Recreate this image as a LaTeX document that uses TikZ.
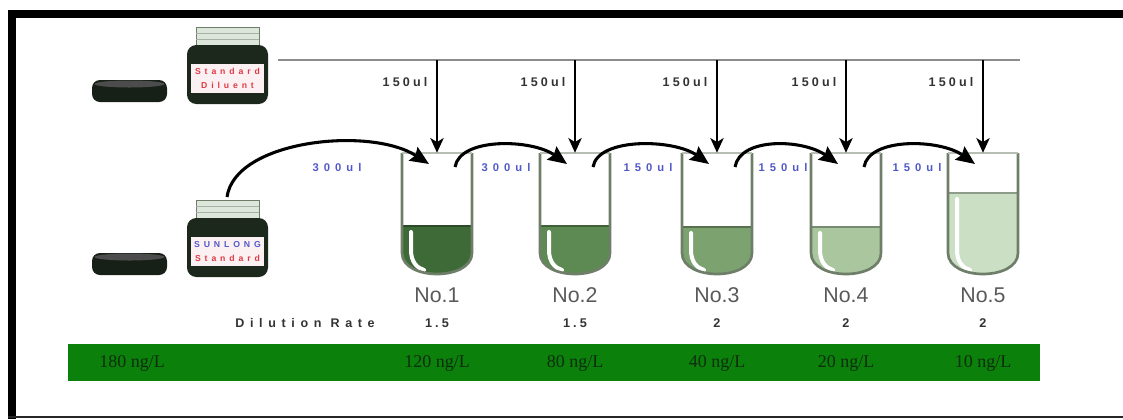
\documentclass[tikz,border=0pt]{standalone}
\usepackage{fontspec}
\setmainfont{Liberation Serif}
\setsansfont{Liberation Sans}
\newfontfamily\medsans[LetterSpace=25]{Liberation Sans}
\newfontfamily\widesans[LetterSpace=45]{Liberation Sans}
\usepackage{tikz}
\usetikzlibrary{arrows.meta}
\definecolor{jarDark}{HTML}{1B281B}
\definecolor{glassGray}{HTML}{DDE6DA}
\definecolor{tubeEdge}{HTML}{6E7E69}
\definecolor{liqA}{HTML}{3E6A37}
\definecolor{liqB}{HTML}{5D8A52}
\definecolor{liqC}{HTML}{7CA270}
\definecolor{liqD}{HTML}{A9C69F}
\definecolor{liqE}{HTML}{CBDFC5}
\definecolor{volBlue}{HTML}{5058C8}
\definecolor{labelRed}{HTML}{E03A44}
\definecolor{labelWhite}{HTML}{FBF1F3}
\definecolor{barGreen}{HTML}{0B800B}
\definecolor{barText}{HTML}{0E2E0E}

\begin{document}
\begin{tikzpicture}[x=0.75pt,y=-0.75pt,
  tubebox/.style={minimum width=52.5pt,minimum height=91.5pt,inner sep=0pt},
  tubelabel/.style={text=black!65,font=\sffamily\fontsize{16}{18}\selectfont},
  ratelabel/.style={text=black!80,font=\medsans\bfseries\fontsize{9.5}{10}\selectfont},
  conclabel/.style={text=barText,font=\fontsize{13.5}{15}\selectfont},
  vollabel/.style={text=volBlue,font=\widesans\bfseries\fontsize{8.4}{9}\selectfont},
  feedlabel/.style={text=black!80,font=\medsans\bfseries\fontsize{9.4}{10}\selectfont,anchor=east},
  jartext/.style={font=\widesans\bfseries\fontsize{6.5}{7}\selectfont,inner sep=0pt},
  feed/.style={-{Stealth[length=11pt,width=10pt,inset=3pt]},line width=1.4pt},
  transfer/.style={-{Stealth[length=14pt,width=12pt,inset=2pt]},line width=2.3pt},
  tubewall/.style={draw=tubeEdge,line width=2pt}]
\useasboundingbox (0,0) rectangle (1123,419);

% frame
\fill (8,10) rectangle (1123,18);
\fill (8,10) rectangle (16,419);
\fill[black!85] (8,416) rectangle (1123,418);

% jars with their lids
\foreach \j/\y/\top/\topcol/\bot/\botcol in
  {dil/27/Standard/labelRed/Diluent/labelRed, std/200/SUNLONG/volBlue/Standard/labelRed}{
  \fill[glassGray] (196,\y) rectangle (259,\y+18);
  \draw[tubeEdge] (196,\y) rectangle (259,\y+18);
  \draw[tubeEdge!60] (196,\y+6) -- (259,\y+6) (196,\y+12) -- (259,\y+12);
  \fill[jarDark,rounded corners=7] (187,\y+18) rectangle (268,\y+77);
  \fill[labelWhite] (191,\y+37) rectangle (264,\y+66);
  \node[jartext,text=\topcol] (\j a) at (227.5,\y+44.5) {\top};
  \node[jartext,text=\botcol] (\j b) at (227.5,\y+58.5) {\bot};
  \fill[jarDark!80!black,rounded corners=6] (92,\y+53) rectangle (167,\y+75);
  \fill[black!70] (129.5,\y+57) ellipse [x radius=35, y radius=3.5];
}
\coordinate (stdout) at (227,197);

% diluent supply line
\coordinate (linestart) at (278,60);
\coordinate (lineend) at (1020,60);
\draw[black!45,line width=2pt] (linestart) -- (lineend);

% tubes
\foreach \n/\cx/\lvl/\liq in {1/437/226/liqA,2/575/226/liqB,3/717/227/liqC,4/846/227/liqD,5/983/193/liqE}{
  \node[tubebox] (tube\n) at (\cx,214) {};
  \fill[\liq] (\cx-35,\lvl) -- (\cx-35,253) .. controls (\cx-35,281) and (\cx+35,281) .. (\cx+35,253) -- (\cx+35,\lvl) -- cycle;
  \draw[\liq!70!black,line width=1.5pt] (\cx-35,\lvl) -- (\cx+35,\lvl);
  \draw[white,line width=3pt,line cap=round] (\cx-26,\lvl+6) -- (\cx-26,250) .. controls (\cx-26,262) and (\cx-20,268) .. (\cx-13,270);
  \draw[tubewall] (\cx-35,153) -- (\cx-35,253) .. controls (\cx-35,281) and (\cx+35,281) .. (\cx+35,253) -- (\cx+35,153);
  \draw[tubeEdge!50,line width=1pt] (\cx-35,153) -- (\cx+35,153);
  \coordinate (feed\n) at (\cx,60);
  \coordinate (in\n) at (\cx-8,164);
  \coordinate (out\n) at (\cx+18,167);
  \draw[feed] (feed\n) -- (tube\n.north);
  \node[feedlabel] (vol\n) at (\cx-5,82) {150ul};
  \node[tubelabel] (no\n) at (\cx,295) {No.\n};
}

% transfers between tubes
\draw[transfer] (stdout) .. controls +(8,-57) and +(-59,-38) .. (in1);
\foreach \m/\n in {1/2,2/3,3/4,4/5}
  \draw[transfer] (out\m) .. controls +(5,-30) and +(-35,-25) .. (in\n);
\foreach \x/\v [count=\k] in {337/300ul,506/300ul,648/150ul,783/150ul,917/150ul}
  \node[vollabel] (move\k) at (\x,167) {\v};

% dilution rates
\node[ratelabel,font=\widesans\bfseries\fontsize{9.4}{10}\selectfont] (ratehead) at (305,323) {Dilution Rate};
\foreach \n/\r in {1/1.5,2/1.5,3/2,4/2,5/2}
  \node[ratelabel] (rate\n) at (tube\n.center |- ratehead) {\r};

% concentrations
\fill[barGreen] (68,344) rectangle (1040,381);
\node[conclabel] (conc0) at (132,363) {180 ng/L};
\foreach \n/\c in {1/120,2/80,3/40,4/20,5/10}
  \node[conclabel] (conc\n) at (tube\n.center |- conc0) {\c{} ng/L};
\end{tikzpicture}
\end{document}
